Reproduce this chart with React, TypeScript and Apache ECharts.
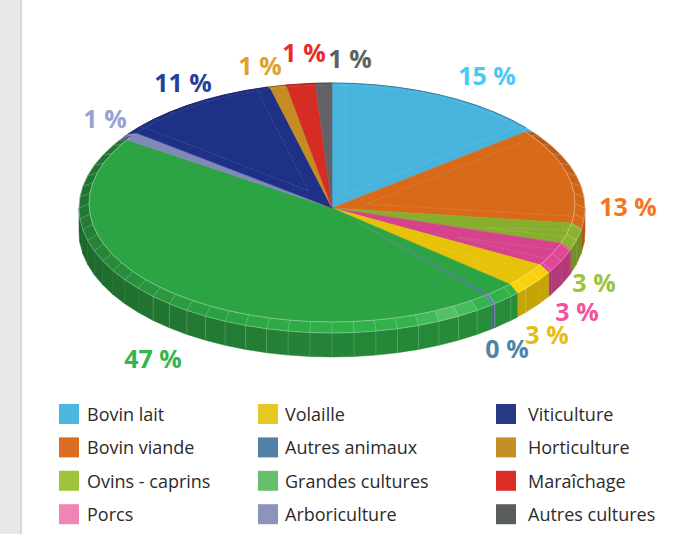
import React, { useEffect, useRef } from "react";
import * as echarts from "echarts";

// Slices clockwise from 12 o'clock (% of the circle)
const sliceNames = ["Bovin lait", "Bovin viande", "Ovins - caprins", "Porcs", "Volaille", "Grandes cultures", "Autres animaux", "Grandes cultures", "Arboriculture", "Viticulture", "Horticulture", "Maraîchage", "Autres cultures"];
const sliceValues = [14.7, 13.0, 2.8, 3.2, 3.3, 1.9, 0.3, 45.0, 1.1, 10.83, 1.1, 1.9, 1.07];

const categories = ["Bovin lait", "Bovin viande", "Ovins - caprins", "Porcs", "Volaille", "Autres animaux", "Grandes cultures", "Arboriculture", "Viticulture", "Horticulture", "Maraîchage", "Autres cultures"];
const faceColors = ["#48b4dd", "#d96a1a", "#88ae2e", "#d5438e", "#e6c208", "#55799f", "#2da444", "#8189b8", "#1e3186", "#c48c22", "#d62c24", "#626266"];
const legendColors = ["#4db8df", "#dc6c22", "#9dc43a", "#f184b6", "#e6c823", "#5580a6", "#68bf6a", "#8c94be", "#283a85", "#c48f25", "#da2d26", "#5a5d5e"];

const pctLabels = ["15 %", "13 %", "3 %", "3 %", "3 %", "0 %", "47 %", "1 %", "11 %", "1 %", "1 %", "1 %"];
const labelColors = ["#4cc8f5", "#f5761f", "#9ac53a", "#f2529f", "#e6bd12", "#4f83ab", "#35b54f", "#97a2d3", "#263f99", "#e0a12c", "#ec2a2a", "#5f5f5f"];
const labelX = [487, 628, 594, 577, 547, 507, 153, 105, 183, 260, 304, 350];
const labelY = [75, 206, 282, 311, 334, 348, 358, 118, 82, 65, 52, 58];

const legendColumns = [
  ["Bovin lait", "Bovin viande", "Ovins - caprins", "Porcs"],
  ["Volaille", "Autres animaux", "Grandes cultures", "Arboriculture"],
  ["Viticulture", "Horticulture", "Maraîchage", "Autres cultures"],
];
const legendLeft = [59, 258, 496];
const legendTextPad = [3, 2, 7];

const CX = 332, CY = 208, RX = 253, RY = 125, DEPTH = 24;
const ICY = 203.5, IRX = 243, IRY = 118.5;
const STEP = 5;
const rad = (d: number) => (d * Math.PI) / 180;
const outer = (d: number, dy = 0): number[] => [CX + RX * Math.sin(rad(d)), CY - RY * Math.cos(rad(d)) + dy];
const inner = (d: number): number[] => [CX + IRX * Math.sin(rad(d)), ICY - IRY * Math.cos(rad(d))];

function tone(hex: string, f: number, white = 0): string {
  const n = parseInt(hex.slice(1), 16);
  const ch = [(n >> 16) & 255, (n >> 8) & 255, n & 255].map((c) => {
    const v = Math.min(255, c * f);
    return Math.round(v + (255 - v) * white);
  });
  return `rgb(${ch[0]},${ch[1]},${ch[2]})`;
}
const isBack = (d: number) => d < 52 || d > 304;
const bevelF = (d: number) => (isBack(d) ? 1 : Math.max(0.72, 0.85 + 0.25 * Math.cos(rad(d - 150))));
const bevelW = (d: number) => 0.17 * Math.exp(-Math.pow((d - 152) / 6, 2));
const sideF = (d: number) => 0.72 + 0.13 * Math.cos(rad(d - 130));

function stops(a: number, b: number): number[] {
  const out = [a];
  let t = (Math.floor(a / STEP) + 1) * STEP;
  while (t < b) { out.push(t); t += STEP; }
  out.push(b);
  return out;
}

function sliceChildren(a: number, b: number, color: string) {
  const kids: any[] = [];
  const seq = stops(a, b);
  // outer wall, front half only
  const sa = Math.max(a, 90), sb = Math.min(b, 270);
  if (sb > sa) {
    const s = stops(sa, sb);
    for (let i = 0; i < s.length - 1; i++) {
      const m = (s[i] + s[i + 1]) / 2;
      const f = tone(color, sideF(m));
      kids.push({ type: "polygon", shape: { points: [outer(s[i]), outer(s[i + 1]), outer(s[i + 1], DEPTH), outer(s[i], DEPTH)] }, style: { fill: f, stroke: f, lineWidth: 0.5 } });
      if (s[i] > 125 && s[i] < 228 && s[i] % 5 === 0) {
        const p = outer(s[i]), q = outer(s[i], DEPTH);
        kids.push({ type: "line", shape: { x1: p[0], y1: p[1], x2: q[0], y2: q[1] }, style: { stroke: "rgba(255,255,255,0.22)", lineWidth: 0.8 } });
      }
    }
  }
  // bevelled ring
  for (let i = 0; i < seq.length - 1; i++) {
    const m = (seq[i] + seq[i + 1]) / 2;
    const f = tone(color, bevelF(m), bevelW(m));
    kids.push({ type: "polygon", shape: { points: [inner(seq[i]), inner(seq[i + 1]), outer(seq[i + 1]), outer(seq[i])] }, style: { fill: f, stroke: f, lineWidth: 0.5 } });
    if (i > 0 && !isBack(seq[i])) {
      const p = inner(seq[i]), q = outer(seq[i]);
      kids.push({ type: "line", shape: { x1: p[0], y1: p[1], x2: q[0], y2: q[1] }, style: { stroke: "rgba(255,255,255,0.28)", lineWidth: 0.6 } });
    }
  }
  // flat top
  const topPts = [[CX, CY], ...seq.map((d) => inner(d))];
  kids.push({ type: "polygon", shape: { points: topPts }, style: { fill: color, stroke: color, lineWidth: 0.5 } });
  // fine edges of the ring
  if (b > 52 && a < 304) {
    const arc = stops(Math.max(a, 52), Math.min(b, 304));
    kids.push({ type: "polyline", shape: { points: arc.map((d) => inner(d)) }, style: { stroke: "rgba(255,255,255,0.5)", lineWidth: 0.7, fill: "none" } });
    kids.push({ type: "polyline", shape: { points: arc.map((d) => outer(d)) }, style: { stroke: "rgba(255,255,255,0.42)", lineWidth: 0.7, fill: "none" } });
  }
  if (a < 52 || b > 304) {
    const back = seq.filter((d) => isBack(d));
    if (back.length > 1) {
      kids.push({ type: "polyline", shape: { points: back.map((d) => outer(d)) }, style: { stroke: tone(color, 0.65), lineWidth: 0.9, fill: "none" } });
    }
  }
  // inset outline on the top face
  const half = (b - a) / 2;
  const apexR = 0.055 / Math.sin(rad(Math.min(half, 80)));
  if (apexR < 0.85 && half < 60) {
    const mid = a + half;
    const apex = [CX + RX * apexR * Math.sin(rad(mid)), CY - RY * apexR * Math.cos(rad(mid))];
    const off = 3.3;
    kids.push({ type: "polyline", shape: { points: [inner(a + off), apex, inner(b - off)] }, style: { stroke: "rgba(255,255,255,0.18)", lineWidth: 0.7, lineDash: [3, 1.5], fill: "none" } });
  }
  return kids;
}

function buildOption() {
  const total = sliceValues.reduce((s, v) => s + v, 0);
  const ranges: Record<string, number[][]> = {};
  let run = 0;
  sliceValues.forEach((v, i) => {
    const n = sliceNames[i];
    (ranges[n] = ranges[n] || []).push([(run / total) * 360, ((run + v) / total) * 360]);
    run += v;
  });
  const series = categories.map((name, i) => ({
    type: "custom",
    name,
    coordinateSystem: "none",
    silent: true,
    itemStyle: { color: legendColors[i] },
    data: ranges[name],
    renderItem: (_p: any, api: any) => ({
      type: "group",
      children: sliceChildren(api.value(0), api.value(1), faceColors[i]),
    }),
  }));
  const legend = legendColumns.map((col, c) => ({
    orient: "vertical",
    left: legendLeft[c],
    top: 400,
    padding: 0,
    itemWidth: 20,
    itemHeight: 20,
    itemGap: 5.4,
    selectedMode: false,
    icon: "rect",
    textStyle: { fontFamily: "Open Sans", fontSize: 18, color: "#2b2b2b", lineHeight: 20, padding: [0, 0, 8, legendTextPad[c]] },
    data: col.map((name) => ({ name, itemStyle: { color: legendColors[categories.indexOf(name)] } })),
  }));
  const graphic = [
    { type: "rect", silent: true, shape: { x: 0, y: 0, width: 20, height: 534 }, style: { fill: "#e9e8e6" } },
    {
      type: "rect", silent: true, shape: { x: 20, y: 0, width: 3, height: 534 },
      style: { fill: new echarts.graphic.LinearGradient(0, 0, 1, 0, [{ offset: 0, color: "#c9c8c6" }, { offset: 1, color: "#ffffff" }]) },
    },
    ...pctLabels.map((text, i) => ({
      type: "text", silent: true, x: labelX[i], y: labelY[i], z: 10,
      style: { text, font: 'bold 25px "Open Sans"', fill: labelColors[i], align: "center", verticalAlign: "middle" },
    })),
  ];
  return { animation: false, backgroundColor: "#ffffff", legend, series, graphic };
}

export default function App() {
  const ref = useRef<HTMLDivElement>(null);
  useEffect(() => {
    document.body.style.margin = "0";
    const chart = echarts.init(ref.current!, undefined, { renderer: "svg" });
    chart.setOption(buildOption() as any);
    return () => chart.dispose();
  }, []);
  return <div ref={ref} style={{ width: 685, height: 534 }} />;
}
